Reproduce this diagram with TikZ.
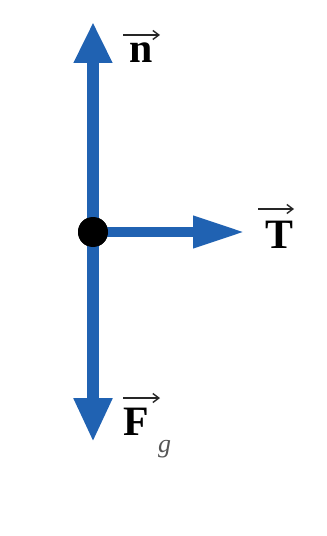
\documentclass[tikz,border=0pt]{standalone}
\usepackage{fontspec}
\setmainfont{Liberation Serif}
\usetikzlibrary{arrows.meta}
\definecolor{vecblue}{RGB}{32,98,178}
\definecolor{subgray}{RGB}{85,85,85}
\tikzset{
  vec/.style={draw=vecblue, line width=#1},
  lbl/.style={inner sep=0pt, font=\fontsize{42}{42}\selectfont\bfseries, text=black},
  sub/.style={inner sep=0pt, font=\fontsize{26}{26}\selectfont\itshape, text=subgray},
  over/.style={draw=black!85, line width=1.4bp, -{Straight Barb[length=6bp,width=9bp,line width=1.4bp]}}
}
\begin{document}
\begin{tikzpicture}[x=1bp,y=-1bp]
\useasboundingbox (0,0) rectangle (326,536);
\coordinate (ntip) at (93,22);
\coordinate (ftip) at (93,442);
\coordinate (ttip) at (245,232);
\node[circle, fill=black, minimum size=30bp, inner sep=0pt] (o) at (93,232) {};
\draw[vec=12bp, -{Triangle[length=41bp,width=36bp]}] (o.center) -- (ntip);
\draw[vec=12bp, -{Triangle[length=44bp,width=36bp]}] (o.center) -- (ftip);
\draw[vec=10bp, -{Triangle[length=52bp,width=30bp]}] (o.center) -- (ttip);
\node[circle, fill=black, minimum size=30bp, inner sep=0pt] at (o) {};
% labels
\node[lbl, anchor=base west] (n) at (129,63) {n};
\node[lbl, anchor=base west] (T) at (265,248) {T};
\node[lbl, anchor=base west] (F) at (123,435) {F};
\node[sub, anchor=base west] (g) at (158,452) {g};
% over-arrows
\coordinate (na) at (123,35);  \coordinate (nb) at (160,35);
\coordinate (ta) at (258,209); \coordinate (tb) at (294,209);
\coordinate (fa) at (123,398); \coordinate (fb) at (160,398);
\draw[over] (na) -- (nb);
\draw[over] (ta) -- (tb);
\draw[over] (fa) -- (fb);
\end{tikzpicture}
\end{document}
